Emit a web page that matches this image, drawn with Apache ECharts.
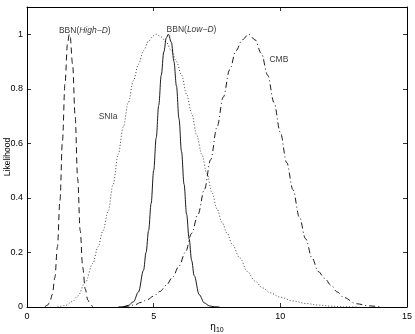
<!DOCTYPE html>
<html>
<head>
<meta charset="utf-8">
<script src="https://cdn.jsdelivr.net/npm/echarts@6/dist/echarts.min.js"></script>
<style>
  html, body { margin: 0; padding: 0; background: #fff; }
  #chart { width: 415px; height: 334px; }
</style>
</head>
<body>
<div id="chart"></div>
<script>
// likelihood curves (x = eta_10, y = likelihood)
const highDX = [0.7, 0.8, 0.9, 1.0, 1.1, 1.2, 1.3, 1.4, 1.5, 1.6, 1.67, 1.7, 1.8, 1.9, 2.0, 2.1, 2.2, 2.3, 2.4, 2.5, 2.6]
const highDY = [0, 0.006, 0.017, 0.046, 0.108, 0.22, 0.39, 0.61, 0.82, 0.967, 1.0, 0.994, 0.89, 0.70, 0.47, 0.28, 0.145, 0.066, 0.026, 0.009, 0]

const lowDX = [3.6, 3.8, 4.0, 4.2, 4.4, 4.6, 4.7, 4.8, 4.9, 5.0, 5.1, 5.2, 5.3, 5.4, 5.5, 5.58, 5.7, 5.8, 5.9, 6.0, 6.1, 6.2, 6.3, 6.4, 6.5, 6.6, 6.8, 7.0, 7.2, 7.4, 7.6]
const lowDY = [0, 0.001, 0.006, 0.019, 0.055, 0.135, 0.20, 0.28, 0.38, 0.50, 0.62, 0.74, 0.85, 0.935, 0.987, 1.0, 0.97, 0.90, 0.81, 0.69, 0.57, 0.45, 0.34, 0.25, 0.17, 0.115, 0.045, 0.015, 0.004, 0.001, 0]

const snX = [1.2, 1.5, 1.8, 2.0, 2.3, 2.6, 2.8, 3.0, 3.2, 3.4, 3.6, 3.8, 4.0, 4.2, 4.4, 4.6, 4.8, 5.0, 5.1, 5.3, 5.5, 5.7, 5.9, 6.1, 6.3, 6.5, 6.7, 6.9, 7.1, 7.3, 7.5, 7.7, 7.9, 8.1, 8.4, 8.7, 9.0, 9.3, 9.6, 10.0, 10.5, 11.0, 11.5, 12.0, 12.5, 13.0]
const snY = [0, 0.005, 0.02, 0.04, 0.09, 0.16, 0.22, 0.28, 0.35, 0.45, 0.56, 0.66, 0.75, 0.83, 0.89, 0.94, 0.975, 0.995, 1.0, 0.99, 0.97, 0.94, 0.90, 0.85, 0.78, 0.71, 0.63, 0.56, 0.49, 0.42, 0.36, 0.31, 0.27, 0.23, 0.18, 0.13, 0.095, 0.07, 0.052, 0.036, 0.022, 0.013, 0.007, 0.003, 0.001, 0]

const cmbX = [3.8, 4.0, 4.25, 4.5, 4.75, 5.0, 5.25, 5.5, 5.75, 6.0, 6.25, 6.5, 6.75, 7.0, 7.25, 7.5, 7.75, 8.0, 8.25, 8.5, 8.75, 9.0, 9.25, 9.5, 9.75, 10.0, 10.25, 10.5, 10.75, 11.0, 11.25, 11.5, 11.75, 12.0, 12.25, 12.5, 13.0, 13.5, 14.0]
const cmbY = [0, 0.003, 0.008, 0.017, 0.027, 0.04, 0.057, 0.08, 0.11, 0.15, 0.20, 0.27, 0.34, 0.43, 0.54, 0.66, 0.77, 0.87, 0.94, 0.98, 1.0, 0.98, 0.93, 0.85, 0.75, 0.64, 0.53, 0.43, 0.33, 0.25, 0.18, 0.13, 0.105, 0.08, 0.055, 0.035, 0.012, 0.004, 0]

const xTicks = [0, 5, 10, 15]
const yTicks = [0, 0.2, 0.4, 0.6, 0.8, 1]

// curve annotations, in data coordinates
const noteNames = ['high', 'low', 'sn', 'cmb']
const noteX = [1.26, 5.51, 2.83, 9.57]
const noteY = [1.013, 1.018, 0.699, 0.908]
const noteText = [
    'BBN({i|High−D})',
    'BBN({i|Low−D})',
    'SNIa',
    'CMB'
]

const font = 'Liberation Sans, Arial, Helvetica, sans-serif'
const ink = '#000'

function pairs(xs, ys) {
    return xs.map((x, i) => [x, ys[i]])
}

function curve(name, xs, ys, dash, color) {
    return {
        name: name,
        type: 'line',
        data: pairs(xs, ys),
        showSymbol: false,
        smooth: 0.35,
        smoothMonotone: 'x',
        silent: true,
        animation: false,
        lineStyle: { color: color || ink, width: 0.9, type: dash }
    }
}

const frameLine = { show: true, onZero: false, lineStyle: { color: ink, width: 1 } }
const innerTick = { show: true, inside: true, length: 4, lineStyle: { color: ink, width: 0.8 } }

const chart = echarts.init(document.getElementById('chart'), null, { renderer: 'canvas' })

chart.setOption({
    backgroundColor: '#fff',
    animation: false,
    grid: { left: 27, right: 8, top: 7, bottom: 27, containLabel: false, outerBoundsMode: 'none' },
    xAxis: [{
        type: 'value',
        min: 0,
        max: 15,
        interval: 5,
        position: 'bottom',
        name: '{e|η}{s|10}',
        nameLocation: 'middle',
        nameGap: 14,
        nameMoveOverlap: false,
        nameTextStyle: {
            rich: {
                e: { fontFamily: font, fontSize: 10, color: ink },
                s: { fontFamily: font, fontSize: 7, color: ink, padding: [6, 0, 0, 0] }
            }
        },
        axisLine: frameLine,
        axisTick: innerTick,
        splitLine: { show: false },
        axisLabel: { color: ink, fontFamily: font, fontSize: 9, margin: 5, customValues: xTicks }
    }, {
        type: 'value',
        min: 0,
        max: 15,
        interval: 5,
        position: 'top',
        axisLine: frameLine,
        axisTick: innerTick,
        splitLine: { show: false },
        axisLabel: { show: false }
    }],
    yAxis: [{
        type: 'value',
        min: 0,
        max: 1.1,
        position: 'left',
        name: 'Likelihood',
        nameLocation: 'middle',
        nameGap: 15,
        nameMoveOverlap: false,
        nameTextStyle: { color: ink, fontFamily: font, fontSize: 8.5 },
        axisLine: frameLine,
        axisTick: Object.assign({}, innerTick, { customValues: yTicks }),
        splitLine: { show: false },
        axisLabel: { color: ink, fontFamily: font, fontSize: 9, margin: 4, customValues: yTicks }
    }, {
        type: 'value',
        min: 0,
        max: 1.1,
        position: 'right',
        axisLine: frameLine,
        axisTick: Object.assign({}, innerTick, { customValues: yTicks }),
        splitLine: { show: false },
        axisLabel: { show: false }
    }],
    series: [
        curve('BBN High-D', highDX, highDY, [6, 4]),
        curve('BBN Low-D', lowDX, lowDY, 'solid'),
        curve('SNIa', snX, snY, [1, 2], '#333'),
        curve('CMB', cmbX, cmbY, [6, 3, 1, 3]),
        {
            type: 'scatter',
            symbolSize: 0,
            silent: true,
            animation: false,
            data: noteNames.map((n, i) => ({ name: n, value: [noteX[i], noteY[i]] })),
            label: {
                show: true,
                position: 'right',
                distance: 0,
                color: ink,
                fontFamily: font,
                fontSize: 8.5,
                formatter: p => noteText[p.dataIndex],
                rich: {
                    i: { fontFamily: font, fontSize: 8.5, fontStyle: 'italic', color: ink }
                }
            }
        }
    ]
})
</script>
</body>
</html>
